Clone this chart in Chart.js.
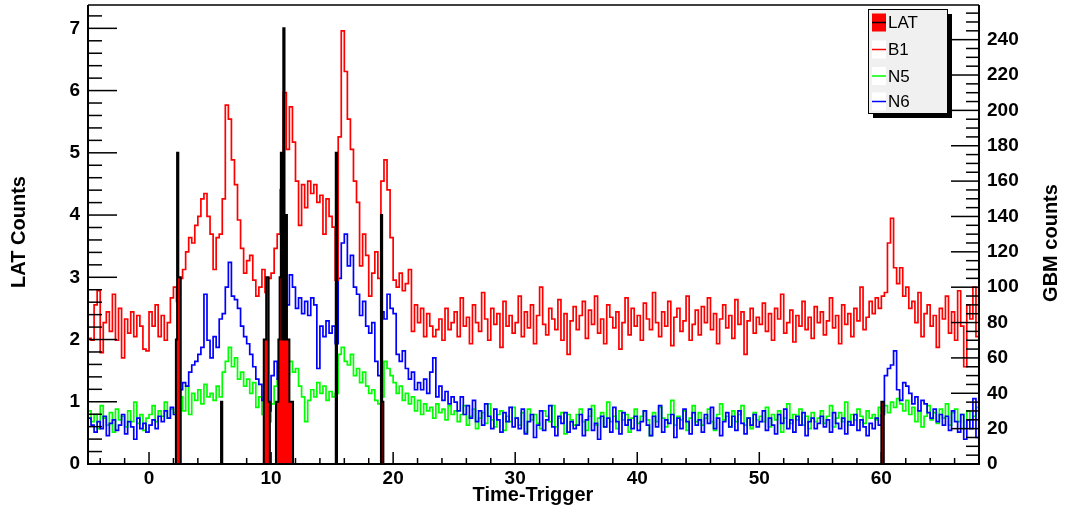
<!DOCTYPE html>
<html><head><meta charset="utf-8">
<script src="https://cdn.jsdelivr.net/npm/chart.js@4.4.0/dist/chart.umd.min.js"></script>
<style>html,body{margin:0;padding:0;background:#fff;}canvas{display:block;}</style>
</head><body>
<canvas id="c" width="1066" height="509"></canvas>
<script>
// ---- binning (seconds relative to trigger) ----
const T_START = -5, T_END = 68, GBM_BIN = 0.25, LAT_BIN = 0.1;

// ---- GBM light curves (counts per 0.25 s bin, starting at t = -5 s) ----
const b1Counts = [
  71, 70, 90, 98, 63, 80, 86, 75, 96, 70, 88, 60, 82, 74, 86, 72, 84, 78, 65, 64,
  86, 78, 90, 72, 84, 70, 80, 94, 100, 92, 105, 110, 120, 128, 125, 135, 140, 150, 153, 140,
  130, 110, 128, 130, 150, 203, 195, 172, 158, 138, 122, 108, 115, 118, 104, 95, 100, 110, 97, 105,
  108, 122, 130, 155, 210, 178, 202, 182, 160, 135, 158, 145, 160, 153, 158, 148, 152, 130, 150, 140,
  134, 104, 185, 245, 222, 195, 178, 160, 148, 112, 130, 118, 95, 108, 120, 105, 160, 172, 155, 128,
  104, 100, 108, 98, 102, 110, 75, 90, 80, 88, 72, 85, 78, 72, 76, 82, 70, 88, 76, 80,
  86, 72, 94, 78, 83, 68, 90, 80, 75, 97, 82, 70, 88, 79, 85, 66, 92, 78, 84, 74,
  80, 95, 72, 86, 77, 90, 68, 84, 100, 79, 73, 88, 82, 76, 93, 70, 85, 62, 81, 89,
  76, 84, 92, 71, 87, 79, 95, 74, 82, 68, 90, 83, 77, 86, 65, 80, 94, 73, 88, 78,
  84, 70, 91, 82, 76, 97, 80, 72, 86, 78, 92, 67, 83, 88, 75, 81, 95, 70, 79, 87,
  73, 89, 80, 94, 76, 85, 68, 82, 90, 77, 84, 71, 93, 79, 86, 62, 81, 88, 74, 83,
  79, 91, 75, 85, 70, 88, 82, 96, 74, 80, 87, 69, 84, 78, 92, 76, 83, 71, 89, 80,
  86, 73, 81, 94, 77, 84, 68, 90, 79, 85, 72, 88, 81, 100, 76, 83, 92, 85, 94, 88,
  95, 97, 125, 139, 111, 102, 111, 95, 100, 88, 92, 80, 97, 72, 85, 90, 78, 84, 66, 88,
  82, 95, 74, 86, 70, 98, 78, 55, 90, 82, 100, 72
];
const n5Counts = [
  30, 24, 28, 20, 33, 26, 22, 29, 18, 31, 25, 27, 21, 30, 24, 35, 23, 28, 19, 26,
  28, 33, 24, 30, 27, 35, 26, 31, 29, 34, 38, 30, 44, 28, 40, 36, 42, 34, 45, 38,
  40, 36, 44, 38, 52, 58, 66, 55, 60, 48, 52, 44, 48, 40, 46, 32, 38, 28, 30, 24,
  34, 44, 48, 40, 46, 50, 58, 52, 54, 44, 38, 24, 36, 42, 38, 46, 40, 44, 36, 41,
  38, 40, 62, 66, 58, 56, 62, 50, 54, 46, 52, 44, 40, 42, 36, 34, 38, 58, 54, 50,
  46, 40, 44, 36, 40, 34, 38, 30, 36, 28, 34, 30, 32, 26, 34, 29, 31, 25, 33, 28,
  30, 24, 28, 33, 22, 27, 31, 20, 26, 29, 23, 34, 25, 21, 28, 30, 19, 27, 24, 32,
  26, 22, 29, 18, 31, 25, 28, 23, 20, 30, 27, 24, 33, 21, 26, 29, 17, 28, 25, 22,
  28, 31, 24, 19, 27, 33, 22, 26, 29, 21, 35, 24, 27, 20, 30, 25, 28, 18, 26, 31,
  23, 27, 30, 25, 16, 29, 24, 32, 26, 21, 28, 36, 22, 27, 25, 30, 19, 26, 33, 24,
  29, 22, 26, 31, 24, 19, 28, 34, 25, 27, 21, 30, 24, 28, 33, 22, 26, 20, 29, 25,
  27, 24, 32, 21, 28, 25, 30, 18, 26, 34, 23, 28, 25, 31, 22, 27, 20, 29, 24, 26,
  30, 23, 27, 33, 21, 26, 29, 24, 35, 22, 28, 25, 31, 27, 23, 30, 26, 28, 25, 32,
  30, 33, 29, 35, 32, 37, 34, 30, 36, 28, 32, 24, 30, 21, 27, 33, 25, 29, 23, 31,
  26, 34, 22, 29, 31, 24, 28, 20, 30, 25, 27, 32
];
const n6Counts = [
  26, 22, 18, 24, 20, 27, 16, 23, 25, 19, 22, 28, 17, 24, 21, 14, 26, 20, 23, 18,
  22, 25, 20, 27, 24, 30, 26, 32, 28, 27, 42, 46, 44, 52, 56, 58, 62, 66, 96, 70,
  60, 72, 66, 82, 85, 100, 114, 95, 93, 88, 78, 72, 68, 62, 55, 48, 45, 36, 42, 30,
  50, 58, 48, 62, 75, 90, 107, 100, 88, 94, 85, 92, 84, 94, 90, 54, 78, 72, 81, 74,
  78, 68, 105, 125, 130, 112, 118, 100, 96, 84, 92, 78, 74, 80, 58, 50, 86, 82, 96, 88,
  85, 62, 58, 64, 54, 48, 52, 42, 46, 42, 48, 40, 52, 60, 38, 44, 36, 41, 34, 38,
  35, 30, 38, 28, 33, 26, 36, 24, 30, 22, 34, 27, 20, 31, 25, 18, 29, 24, 32, 21,
  26, 20, 31, 17, 24, 28, 15, 22, 30, 19, 25, 33, 21, 16, 27, 23, 29, 18, 24, 20,
  22, 28, 16, 25, 31, 19, 23, 14, 27, 21, 26, 18, 32, 24, 17, 29, 22, 25, 20, 27,
  19, 24, 30, 22, 16, 27, 21, 33, 18, 25, 23, 28, 15, 26, 20, 31, 24, 17, 29, 22,
  25, 18, 28, 23, 32, 20, 26, 16, 24, 29, 21, 27, 19, 30, 23, 17, 26, 22, 28, 21,
  24, 30, 19, 26, 22, 17, 28, 23, 31, 20, 25, 18, 27, 22, 29, 16, 24, 26, 20, 23,
  27, 21, 25, 18, 29, 23, 20, 26, 17, 24, 22, 28, 19, 25, 21, 16, 23, 20, 26, 22,
  28, 50, 54, 56, 64, 42, 36, 46, 44, 40, 34, 38, 30, 36, 34, 29, 26, 31, 24, 28,
  22, 27, 19, 30, 24, 18, 28, 14, 25, 20, 37, 15
];

// ---- LAT events (non-empty 0.1 s bins: start time, counts) ----
const latTimes  = [2.2, 2.3, 2.4, 2.5, 5.9, 9.4, 9.5, 9.6, 9.7, 9.8, 10.4, 10.5, 10.6, 10.7, 10.8, 10.9, 11.0, 11.1, 11.2, 11.3, 11.4, 11.5, 11.6, 11.7, 15.3, 19.0, 19.1, 60.0, 60.1];
const latCounts = [2,   5,   3,   3,   1,   2,   2,   3,   3,   1,   1,    1,    2,    3,    5,    2,    7,    2,    4,    2,    2,    1,    1,    1,    5,    4,    1,    1,    1];

// ---- axes ----
const xTicks   = [0, 10, 20, 30, 40, 50, 60];
const latTicks = [0, 1, 2, 3, 4, 5, 6, 7];
const gbmTicks = [0, 20, 40, 60, 80, 100, 120, 140, 160, 180, 200, 220, 240];
const LAT_MAX = 7.375, GBM_MAX = 259.6;
const seriesNames  = ['LAT', 'B1', 'N5', 'N6'];
const seriesColors = ['#ff0000', '#ff0000', '#00ff00', '#0000ff'];

function histPoints(values, start, width) {
  const pts = [];
  values.forEach((v, i) => {
    const x0 = start + i * width;
    pts.push({x: x0, y: v}, {x: x0 + width, y: v});
  });
  return pts;
}
const nLat = Math.round((T_END - T_START) / LAT_BIN);
const latHist = new Array(nLat).fill(0);
latTimes.forEach((t, j) => { latHist[Math.round((t - T_START) / LAT_BIN)] = latCounts[j]; });

const FONT = "'Liberation Sans', Arial, Helvetica, sans-serif";

const framePlugin = {
  id: 'frame',
  afterDatasetsDraw(chart) {
    const {ctx, chartArea: a, scales} = chart;
    const x = scales.x, yL = scales.yL, yR = scales.yR;
    ctx.save();
    ctx.strokeStyle = '#000';
    const line = (x1, y1, x2, y2) => { ctx.beginPath(); ctx.moveTo(x1, y1); ctx.lineTo(x2, y2); ctx.stroke(); };
    ctx.lineWidth = 2;
    ctx.beginPath();
    ctx.moveTo(a.left, a.top); ctx.lineTo(a.left, a.bottom); ctx.lineTo(a.right, a.bottom); ctx.lineTo(a.right, a.top);
    ctx.stroke();
    ctx.lineWidth = 1.5;
    line(a.left, a.top, a.right, a.top);
    // x ticks: major 10, minor 2
    for (let k = -2; k <= 34; k++) {
      const v = k * 2;
      if (v < x.min || v > x.max) continue;
      const px = x.getPixelForValue(v);
      const len = (v % 10 === 0) ? 12 : 6;
      line(px, a.bottom, px, a.bottom - len);
    }
    // left ticks: major 1, minor 0.2
    for (let k = 0; k * 0.2 <= yL.max + 1e-9; k++) {
      const py = yL.getPixelForValue(k * 0.2);
      const len = (k % 5 === 0) ? 29 : 14;
      line(a.left, py, a.left + len, py);
    }
    // right ticks: major 20, minor 5
    for (let v = 0; v <= yR.max; v += 5) {
      const py = yR.getPixelForValue(v);
      const len = (v % 20 === 0) ? 28 : 13;
      line(a.right, py, a.right - len, py);
    }
    ctx.restore();
  },
  afterDraw(chart) {
    const ctx = chart.ctx;
    ctx.save();
    ctx.fillStyle = '#000';
    ctx.font = 'bold 20px ' + FONT;
    ctx.textAlign = 'center';
    ctx.textBaseline = 'middle';
    ctx.fillText('Time-Trigger', 533, 495);
    ctx.save(); ctx.translate(19, 232); ctx.rotate(-Math.PI / 2); ctx.fillText('LAT Counts', 0, 0); ctx.restore();
    ctx.save(); ctx.translate(1051, 243); ctx.rotate(-Math.PI / 2); ctx.fillText('GBM counts', 0, 0); ctx.restore();

    // legend box with shadow
    const bx = 868, by = 9, bw = 79, bh = 104;
    ctx.fillStyle = '#000';
    ctx.fillRect(bx + 5, by + 5, bw, bh);
    ctx.fillStyle = '#f0f0f0';
    ctx.fillRect(bx, by, bw, bh);
    ctx.strokeStyle = '#000';
    ctx.lineWidth = 1;
    ctx.strokeRect(bx + 0.5, by + 0.5, bw, bh);
    const rows = [22.5, 49.5, 76, 101.5];
    ctx.font = '17px ' + FONT;
    ctx.textAlign = 'left';
    ctx.textBaseline = 'middle';
    seriesNames.forEach((name, i) => {
      const cy = rows[i];
      if (i === 0) {
        ctx.fillStyle = seriesColors[0];
        ctx.fillRect(872, cy - 9, 14, 18);
        ctx.strokeStyle = '#000'; ctx.lineWidth = 1.5;
        ctx.beginPath(); ctx.moveTo(872, cy); ctx.lineTo(886, cy); ctx.stroke();
      } else {
        ctx.fillStyle = '#fff';
        ctx.fillRect(872, cy - 9, 14, 18);
        ctx.strokeStyle = seriesColors[i]; ctx.lineWidth = 1.5;
        ctx.beginPath(); ctx.moveTo(872, cy); ctx.lineTo(886, cy); ctx.stroke();
      }
      ctx.fillStyle = '#000';
      ctx.fillText(name, 888, cy + 1);
    });
    ctx.restore();
  }
};

const tickFont = {family: FONT, size: 19, weight: 'bold'};
const noPad = s => { s.paddingTop = 0; s.paddingBottom = 0; s.paddingLeft = 0; s.paddingRight = 0; };

new Chart(document.getElementById('c'), {
  type: 'line',
  data: {
    datasets: [
      {label: seriesNames[0], data: histPoints(latHist, T_START, LAT_BIN), yAxisID: 'yL',
       borderColor: '#000', backgroundColor: seriesColors[0], fill: 'origin', borderWidth: 2, order: 0},
      {label: seriesNames[1], data: histPoints(b1Counts, T_START, GBM_BIN), yAxisID: 'yR',
       borderColor: seriesColors[1], borderWidth: 1.7, fill: false, order: 1},
      {label: seriesNames[3], data: histPoints(n6Counts, T_START, GBM_BIN), yAxisID: 'yR',
       borderColor: seriesColors[3], borderWidth: 1.7, fill: false, order: 2},
      {label: seriesNames[2], data: histPoints(n5Counts, T_START, GBM_BIN), yAxisID: 'yR',
       borderColor: seriesColors[2], borderWidth: 1.7, fill: false, order: 3}
    ]
  },
  options: {
    responsive: false,
    animation: false,
    devicePixelRatio: 1,
    elements: {point: {radius: 0}, line: {tension: 0, borderJoinStyle: 'miter'}},
    layout: {padding: {top: 5, left: 0, right: 0, bottom: 0}},
    plugins: {legend: {display: false}, tooltip: {enabled: false}},
    scales: {
      x: {
        type: 'linear', position: 'bottom', min: T_START, max: T_END,
        grid: {display: false, drawTicks: false}, border: {display: false},
        ticks: {font: tickFont, color: '#000', padding: 3, maxRotation: 0, autoSkip: false},
        afterBuildTicks: s => { s.ticks = xTicks.map(v => ({value: v})); },
        afterFit: s => { s.height = 45; noPad(s); }
      },
      yL: {
        type: 'linear', position: 'left', min: 0, max: LAT_MAX,
        grid: {display: false, drawTicks: false}, border: {display: false},
        ticks: {font: tickFont, color: '#000', padding: 8, autoSkip: false},
        afterBuildTicks: s => { s.ticks = latTicks.map(v => ({value: v})); },
        afterFit: s => { s.width = 88; noPad(s); }
      },
      yR: {
        type: 'linear', position: 'right', min: 0, max: GBM_MAX,
        grid: {display: false, drawTicks: false}, border: {display: false},
        ticks: {font: tickFont, color: '#000', padding: 8, autoSkip: false},
        afterBuildTicks: s => { s.ticks = gbmTicks.map(v => ({value: v})); },
        afterFit: s => { s.width = 87; noPad(s); }
      }
    }
  },
  plugins: [framePlugin]
});
</script>
</body></html>
